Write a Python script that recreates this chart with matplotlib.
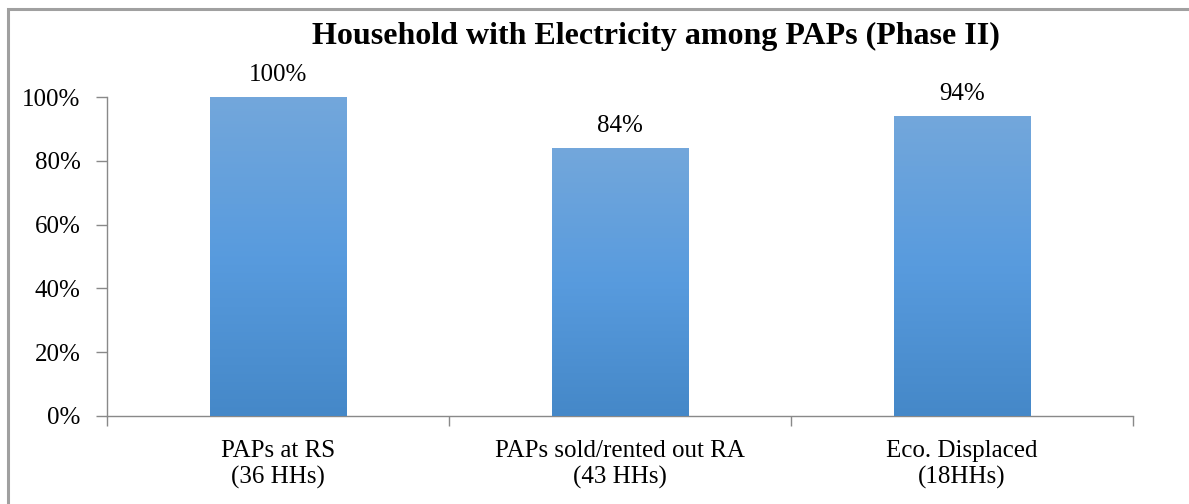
import numpy as np
import matplotlib.pyplot as plt
from matplotlib.colors import LinearSegmentedColormap
from matplotlib.patches import Rectangle
from matplotlib.ticker import FixedLocator, PercentFormatter

categories = ['PAPs at RS\n(36 HHs)', 'PAPs sold/rented out RA\n(43 HHs)', 'Eco. Displaced\n(18HHs)']
values = [1.00, 0.84, 0.94]
labels = ['100%', '84%', '94%']

plt.rcParams['font.family'] = ['Liberation Serif', 'DejaVu Serif']

W, H = 1189, 504
fig = plt.figure(figsize=(W / 100, H / 100), dpi=100)
ax = fig.add_axes([107 / W, (H - 416) / H, (1133 - 107) / W, (416 - 97) / H])

x = np.arange(len(categories))
bars = ax.bar(x, values, width=0.4, color='#5799DB', zorder=2)

# vertical gradient inside each bar
cmap = LinearSegmentedColormap.from_list('bar', ['#4588C8', '#589BDE', '#73A7DB'])
grad = np.linspace(0, 1, 256).reshape(-1, 1)
for b in bars:
    x0, y0 = b.get_x(), b.get_y()
    im = ax.imshow(grad, cmap=cmap, origin='lower', aspect='auto',
                   extent=[x0, x0 + b.get_width(), y0, y0 + b.get_height()], zorder=3)
    im.set_clip_path(b)

for xi, v, lab in zip(x, values, labels):
    ax.text(xi, v + 0.05, lab, ha='center', va='baseline', fontsize=18)

ax.set_xlim(-0.5, len(categories) - 0.5)
ax.set_ylim(0, 1.0)
ax.yaxis.set_major_locator(FixedLocator([0, 0.2, 0.4, 0.6, 0.8, 1.0]))
ax.yaxis.set_major_formatter(PercentFormatter(1.0, decimals=0))

ax.set_xticks(x)
ax.set_xticklabels(categories, fontsize=18, linespacing=1.25)
ax.set_xticks(np.arange(len(categories) + 1) - 0.5, minor=True)
ax.tick_params(axis='x', which='major', length=0, pad=17)
ax.tick_params(axis='x', which='minor', length=7, color='#898989', width=1)
ax.tick_params(axis='y', labelsize=18, length=8, color='#898989', width=1, pad=11)

for s in ['top', 'right']:
    ax.spines[s].set_visible(False)
for s in ['left', 'bottom']:
    ax.spines[s].set_color('#898989')
    ax.spines[s].set_linewidth(1)

fig.text(656 / W, 1 - 36 / H, 'Household with Electricity among PAPs (Phase II)',
         ha='center', va='center', fontsize=23, fontweight='bold')

# chart area border (extends past right and bottom edges)
fig.patches.append(Rectangle((7.5 / W, -0.1), 1.2, 1 - 8.5 / H + 0.1,
                             transform=fig.transFigure, fill=False,
                             edgecolor='#A0A0A0', linewidth=2.2))

fig.savefig('out.png', dpi=100)
